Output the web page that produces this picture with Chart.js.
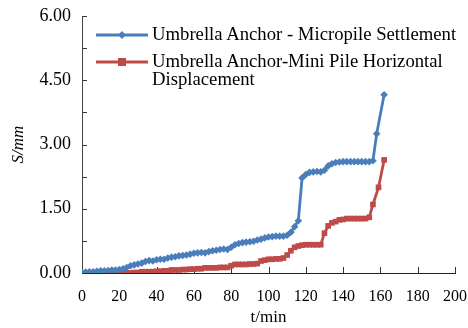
<!DOCTYPE html>
<html>
<head>
<meta charset="utf-8">
<script src="https://cdn.jsdelivr.net/npm/chart.js@4.4.1/dist/chart.umd.min.js"></script>
<style>
  html, body { margin: 0; padding: 0; background: #fff; }
  #wrap { position: relative; width: 468px; height: 328px; }
  #legend { position: absolute; left: 94px; top: 25px; font-family: "Liberation Serif", "Times New Roman", serif;
            font-size: 18.7px; color: #000; line-height: 18px; }
  .row { position: relative; padding-left: 58px; white-space: nowrap; }
  .row svg { position: absolute; left: 0; top: 0; }
</style>
</head>
<body>
<div id="wrap">
  <canvas id="chart" width="468" height="328"></canvas>
  <div id="legend">
    <div class="row" style="margin-bottom:9px">
      <svg width="58" height="18"><line x1="2" y1="10" x2="54" y2="10" stroke="#4A7EBB" stroke-width="3"/>
        <polygon points="28,6 32,10 28,14 24,10" fill="#4A7EBB"/></svg>
      Umbrella Anchor - Micropile Settlement
    </div>
    <div class="row">
      <svg width="58" height="18"><line x1="2" y1="10" x2="54" y2="10" stroke="#BE4B48" stroke-width="3"/>
        <rect x="24" y="6" width="8" height="8" fill="#BE4B48"/></svg>
      Umbrella Anchor-Mini Pile Horizontal<br>Displacement
    </div>
  </div>
</div>
<script>
"use strict";

const blueLabel = "Umbrella Anchor - Micropile Settlement";
const redLabel = "Umbrella Anchor-Mini Pile Horizontal Displacement";

const blueTimes = [0, 2, 4, 6, 8, 10, 12, 14, 16, 18, 20, 22, 24, 26, 28, 30, 32, 34, 36, 38,
  40, 42, 44, 46, 48, 50, 52, 54, 56, 58, 60, 62, 64, 66, 68, 70, 72, 74, 76, 78,
  80, 82, 84, 86, 88, 90, 92, 94, 96, 98, 100, 102, 104, 106, 108, 110, 112, 114, 116, 118,
  120, 122, 124, 126, 128, 130, 132, 134, 136, 138, 140, 142, 144, 146, 148, 150, 152, 154, 156, 158, 162];
const blueValues = [0.02, 0.02, 0.03, 0.03, 0.04, 0.05, 0.05, 0.06, 0.07, 0.07, 0.08, 0.10, 0.13, 0.17, 0.19, 0.21, 0.23, 0.27, 0.29, 0.28,
  0.31, 0.32, 0.32, 0.35, 0.37, 0.38, 0.40, 0.41, 0.42, 0.44, 0.46, 0.47, 0.48, 0.47, 0.50, 0.52, 0.53, 0.55, 0.56, 0.55,
  0.60, 0.66, 0.69, 0.71, 0.72, 0.73, 0.74, 0.77, 0.79, 0.82, 0.84, 0.85, 0.86, 0.86, 0.86, 0.88, 0.95, 1.08, 1.22, 2.22,
  2.30, 2.35, 2.36, 2.37, 2.36, 2.40, 2.50, 2.55, 2.58, 2.59, 2.60, 2.60, 2.60, 2.60, 2.60, 2.60, 2.60, 2.60, 2.62, 3.25, 4.16];

const redTimes = [0, 2, 4, 6, 8, 10, 12, 14, 16, 18, 20, 22, 24, 26, 28, 30, 32, 34, 36, 38,
  40, 42, 44, 46, 48, 50, 52, 54, 56, 58, 60, 62, 64, 66, 68, 70, 72, 74, 76, 78,
  80, 82, 84, 86, 88, 90, 92, 94, 96, 98, 100, 102, 104, 106, 108, 110, 112, 114, 116, 118,
  120, 122, 124, 126, 128, 130, 132, 134, 136, 138, 140, 142, 144, 146, 148, 150, 152, 154, 156, 159, 162];
const redValues = [0.00, 0.00, 0.00, 0.00, 0.00, 0.00, 0.00, 0.00, 0.00, 0.00, 0.00, 0.00, 0.00, 0.00, 0.01, 0.01, 0.03, 0.03, 0.03, 0.03,
  0.04, 0.04, 0.05, 0.05, 0.07, 0.07, 0.07, 0.08, 0.08, 0.09, 0.09, 0.10, 0.10, 0.12, 0.12, 0.12, 0.12, 0.13, 0.13, 0.13,
  0.17, 0.20, 0.20, 0.20, 0.20, 0.21, 0.21, 0.22, 0.28, 0.30, 0.32, 0.32, 0.33, 0.33, 0.35, 0.42, 0.52, 0.60, 0.63, 0.65,
  0.66, 0.66, 0.66, 0.66, 0.66, 0.93, 1.10, 1.17, 1.20, 1.24, 1.25, 1.27, 1.27, 1.27, 1.27, 1.27, 1.27, 1.30, 1.60, 2.00, 2.64];

const xTitle = "t/min";
const yTitle = "S/mm";

const pts = (xs, ys) => xs.map((x, i) => ({ x, y: ys[i] }));
const serif = "'Liberation Serif', 'Times New Roman', serif";

// tick marks drawn inward, like the original figure
const innerTicks = {
  id: "innerTicks",
  beforeDatasetsDraw(chart) {
    const { ctx, scales: { x, y } } = chart;
    ctx.save();
    ctx.strokeStyle = "#333";
    ctx.lineWidth = 1;
    ctx.beginPath();
    for (const t of x.ticks) {
      const px = Math.round(x.getPixelForValue(t.value)) + 0.5;
      ctx.moveTo(px, x.top);
      ctx.lineTo(px, x.top - 6);
    }
    for (const t of y.ticks) {
      const py = Math.round(y.getPixelForValue(t.value)) + 0.5;
      ctx.moveTo(y.right, py);
      ctx.lineTo(y.right + 5, py);
    }
    ctx.stroke();
    ctx.restore();
  },
};

new Chart(document.getElementById("chart"), {
  type: "line",
  data: {
    datasets: [
      { label: blueLabel, data: pts(blueTimes, blueValues), borderColor: "#4A7EBB", backgroundColor: "#4A7EBB",
        borderWidth: 2.8, pointStyle: "rectRot", pointRadius: 3.8, pointBorderWidth: 0, tension: 0 },
      { label: redLabel, data: pts(redTimes, redValues), borderColor: "#BE4B48", backgroundColor: "#BE4B48",
        borderWidth: 2.8, pointStyle: "rect", pointRadius: 4, pointBorderWidth: 0, tension: 0 },
    ],
  },
  options: {
    responsive: false, animation: false,
    layout: { padding: { left: 0, right: 0, top: 16, bottom: 0 } },
    plugins: { legend: { display: false }, tooltip: { enabled: false } },
    scales: {
      x: {
        type: "linear", min: 0, max: 200,
        afterFit: (s) => { s.height = 55; s.paddingLeft = 0; s.paddingRight = 13; },
        grid: { drawOnChartArea: false, drawTicks: false, color: "transparent" },
        border: { color: "#222", width: 1 },
        ticks: { stepSize: 20, padding: 14, color: "#000", maxRotation: 0, font: { family: serif, size: 16 } },
        title: { display: true, text: xTitle, color: "#000", padding: { top: 3, bottom: 0 }, font: { family: serif, size: 17 } },
      },
      y: {
        min: 0, max: 6,
        afterFit: (s) => { s.width = 82; s.paddingTop = 0; s.paddingBottom = 0; },
        grid: { drawOnChartArea: false, drawTicks: false, color: "transparent" },
        border: { color: "#444", width: 1 },
        ticks: {
          stepSize: 0.75, padding: 11, color: "#000", font: { family: serif, size: 18 },
          callback: (v) => (Math.abs(v / 1.5 - Math.round(v / 1.5)) < 1e-6 ? v.toFixed(2) : ""),
        },
        title: { display: true, text: yTitle, color: "#000", padding: { top: 8, bottom: 0 },
                 font: { family: serif, size: 17, style: "italic" } },
      },
    },
  },
  plugins: [innerTicks],
});
</script>
</body>
</html>
